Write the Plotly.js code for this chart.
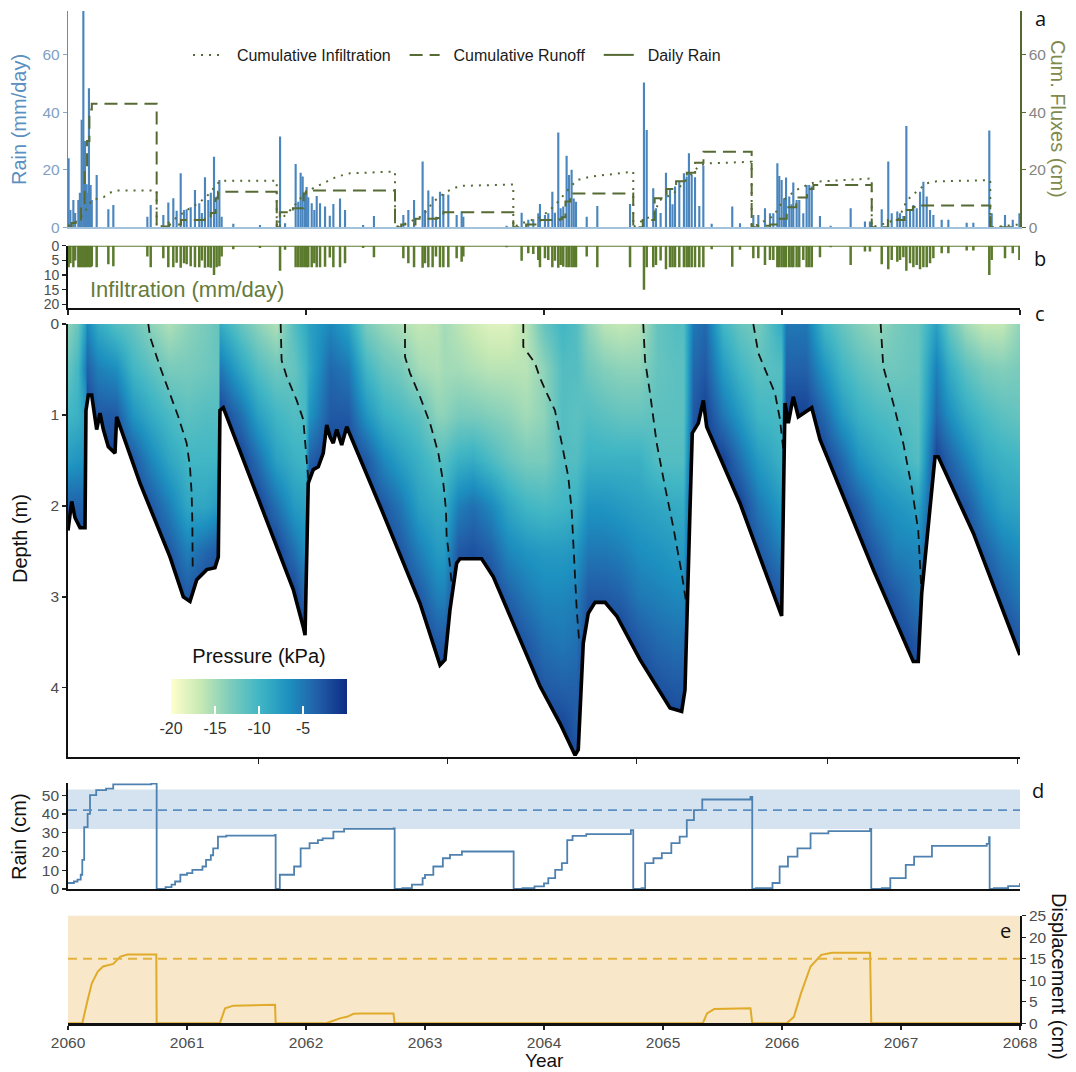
<!DOCTYPE html>
<html><head><meta charset="utf-8">
<script src="https://cdn.plot.ly/plotly-3.0.1.min.js"></script>
<style>html,body{margin:0;padding:0;background:#fff;}#chart{width:1076px;height:1072px;}</style>
</head><body><div id="chart"></div>
<script>
// ---------------- DATA ----------------
// (a) daily rain (mm/day) and (b) infiltration (mm/day)
const rainYear = [
 2060.005,2060.02,2060.045,2060.06,2060.087,2060.1,2060.115,2060.129,2060.143,2060.157,
 2060.165,2060.176,2060.19,2060.2,2060.241,2060.339,2060.381,2060.667,2060.695,2060.801,
 2060.843,2060.885,2060.913,2060.947,2060.975,2060.997,2061.031,2061.067,2061.103,2061.125,
 2061.151,2061.179,2061.2,2061.227,2061.249,2061.272,2061.291,2061.389,2061.613,2061.782,
 2061.824,2061.913,2061.935,2061.955,2061.972,2061.992,2062.005,2062.019,2062.048,2062.07,
 2062.09,2062.118,2062.16,2062.2,2062.23,2062.286,2062.328,2062.48,2062.571,2062.818,
 2062.86,2062.908,2062.98,2063.0,2063.028,2063.064,2063.092,2063.126,2063.154,2063.196,
 2063.266,2063.308,2063.322,2063.686,2063.812,2063.868,2063.91,2063.952,2063.966,2064.008,
 2064.036,2064.07,2064.092,2064.12,2064.14,2064.162,2064.19,2064.21,2064.232,2064.25,
 2064.269,2064.359,2064.448,2064.723,2064.84,2064.863,2064.918,2064.941,2064.98,2065.025,
 2065.059,2065.08,2065.101,2065.137,2065.176,2065.199,2065.218,2065.241,2065.269,2065.305,
 2065.339,2065.409,2065.582,2065.647,2065.759,2065.801,2065.857,2065.899,2065.927,2065.961,
 2065.977,2065.997,2066.017,2066.034,2066.061,2066.08,2066.095,2066.123,2066.145,2066.179,
 2066.207,2066.229,2066.25,2066.319,2066.409,2066.577,2066.697,2066.739,2066.838,2066.893,
 2066.922,2066.969,2066.992,2067.02,2067.045,2067.076,2067.104,2067.132,2067.16,2067.188,
 2067.216,2067.244,2067.272,2067.342,2067.398,2067.552,2067.608,2067.742,2067.762,2067.874,
 2067.939,2067.995];
const rainMm = [
 24,6,9.5,5,9.5,12,37.4,76,30,15,
 12,48.4,14.7,9.5,18.2,6.3,7.8,3.7,7.8,4.3,
 8.6,10.1,5.8,18.8,6,6.3,7,13,8.4,5,
 17.4,9.5,12,24.6,10.7,16.5,3.7,1.2,0.8,31.6,
 1.4,22,8.9,19,17.7,11.8,14,10.5,8.4,6,
 10.9,8.4,7.2,4,8.1,10,6,0.8,3.9,4.3,
 6,9.5,22.9,6,12.8,10.7,3.7,12.4,11.6,11.3,
 4.3,5.5,3.7,0.5,5.1,2.6,2.8,4.9,8.1,4.3,
 4.9,12.4,5.1,33,6.6,7.2,24.9,18.2,20,10,
 8.9,3.7,7.4,8.1,50.4,33.9,13.6,6.6,5,19,
 13.6,8,14.2,15.9,18.8,17.7,25.8,18.2,17.4,7.4,
 21.5,1.2,7.2,1.4,4.3,4.3,6.6,4.9,4.9,22.3,
 17.9,16.5,10.1,17.3,10.7,8,15.6,9.5,9.5,4.9,
 14.7,14.7,14.2,3.9,0.5,6.6,2,2,6.3,22.9,
 4.9,5.5,4.9,3.9,35.3,6,7.8,6.6,12.4,15.9,
 10.7,6,4.3,2.6,2.6,1.6,1.6,33.7,4.9,4.3,
 2.6,4.9];
const infilMm = [
 7.3,6,7.3,5,7.3,7.3,7.3,7.3,7.3,7.3,
 7,7.3,7.3,7,7.3,6.3,7,3.7,7.3,4.3,
 7.3,7.3,5.8,7.5,6,6.3,7,7.3,7.3,5,
 7.5,7.3,7.5,10,7.3,7,3.7,1.2,0.8,8.5,
 1.4,7.3,7.3,7.3,7.3,7.3,7.3,7.3,7.3,6,
 7.3,7.3,7.2,4,7.3,7.3,6,0.8,3.9,4.3,
 6,7.3,7.5,6,7.3,7.3,3.7,7.3,7.3,7.3,
 4.3,5.5,3.7,0.5,5.1,2.6,2.8,4.9,7.3,4.3,
 4.9,7.3,5.1,7.5,6.6,7.2,7.3,7.3,7.3,7.3,
 7.3,3.7,7.3,7.3,15,7.3,7.3,6.6,5,8,
 7.3,7.3,7.3,7.3,7.3,7.3,7.3,7.3,7.3,7.3,
 7.3,1.2,7.2,1.4,4.3,4.3,6.6,4.9,4.9,7.3,
 7.3,7.3,7.3,7.3,7.3,7.3,7.3,7.3,7.3,4.9,
 7.3,7.3,7.3,3.9,0.5,6.6,2,2,6.3,8,
 4.9,5.5,4.9,3.9,8.5,6,7.3,6.6,8,7.3,
 7.3,6,4.3,2.6,2.6,1.6,1.6,10,4.9,4.3,
 2.6,4.9];

// (a) cumulative fluxes (cm), reset each water year
const cumInfYear = [2060.0,2060.05,2060.1,2060.15,2060.2,2060.25,2060.3,2060.35,2060.4,2060.745,2060.745,
 2060.8,2060.9,2061.0,2061.095,2061.165,2061.235,2061.277,2061.754,2061.754,
 2061.78,2061.89,2062.0,2062.145,2062.258,2062.37,2062.706,2062.748,2062.748,
 2062.85,2062.98,2063.07,2063.18,2063.29,2063.742,2063.742,
 2063.82,2063.97,2064.05,2064.13,2064.22,2064.275,2064.39,2064.75,2064.75,
 2064.84,2064.92,2064.97,2065.09,2065.17,2065.25,2065.31,2065.4,2065.745,2065.745,
 2065.8,2065.93,2066.01,2066.12,2066.21,2066.29,2066.754,2066.754,
 2066.84,2066.98,2067.05,2067.13,2067.215,2067.3,2067.75,2067.75,2067.9,2068.0];
const cumInfCm = [0.5,1.5,3,6,9.5,10,10.5,12,12.8,12.8,0,
 0.5,3,6,8.4,10.7,14.1,16.2,16.2,0,
 2.4,6.9,12.4,15.3,17.6,18.8,19.4,19.4,0,
 1.5,4,8.9,12.4,14.4,14.9,0,
 1.5,3.5,6,9.4,14,16.4,17.6,19.4,0,
 2.8,4,9.4,11.8,15.3,18.8,21.7,22.3,22.8,0,
 1,4,9.4,13,14.7,15.9,17,0,
 1,3,9.4,12.4,15.3,16,16.4,0,0.5,1];
const cumRunYear = [2060.0,2060.03,2060.08,2060.11,2060.14,2060.16,2060.18,2060.2,2060.745,2060.745,
 2060.8,2060.85,2060.95,2061.15,2061.2,2061.24,2061.26,2061.754,2061.754,
 2061.78,2061.89,2061.98,2062.0,2062.748,2062.748,
 2062.8,2062.92,2063.1,2063.154,2063.742,2063.742,
 2063.85,2063.97,2064.13,2064.15,2064.18,2064.22,2064.75,2064.75,
 2064.83,2064.93,2065.0,2065.03,2065.11,2065.2,2065.27,2065.34,2065.745,2065.745,
 2065.8,2065.9,2065.955,2066.04,2066.09,2066.12,2066.21,2066.264,2066.754,2066.754,
 2066.89,2067.02,2067.03,2067.08,2067.1,2067.15,2067.75,2067.75,2068.0];
const cumRunCm = [0,1.5,2,8,20,30,41,43,43,0,
 0.3,1,2.5,3,5,10,12.4,12.4,0,
 5.2,6.6,11.8,12.8,12.8,0,
 1,3,3.2,5.2,5.2,0,
 1,2.5,2.8,3.5,9,11.8,11.8,0,
 2.5,10.1,10.1,13.3,16,19,22.5,26.3,26.3,0,
 0.5,1,3,7,7,10.4,13.3,14.7,14.7,0,
 2.5,2.5,6,6,7.1,7.6,7.6,0,0.2];

// (c) pressure head grid (kPa): depths (m) x times (year)
const gridDepth = [0,0.5,1,1.5,2,2.5,3,3.5,4,4.5,5];
const gridYear = [2060.00,2060.08,2060.14,2060.16,2060.25,2060.40,2060.55,2060.70,2060.85,
 2061.00,2061.15,2061.26,2061.28,2061.45,2061.60,2061.75,2061.90,2061.99,
 2062.025,2062.20,2062.35,2062.50,2062.65,2062.80,2062.95,
 2063.10,2063.16,2063.28,2063.40,2063.55,2063.70,2063.85,
 2064.00,2064.15,2064.27,2064.37,2064.50,2064.65,2064.80,2064.95,
 2065.10,2065.17,2065.25,2065.35,2065.50,2065.65,2065.80,2065.99,
 2066.03,2066.20,2066.35,2066.50,2066.65,2066.80,2066.95,
 2067.14,2067.29,2067.40,2067.55,2067.70,2067.85,2068.00];
const pressureCols = [
 [-14,-12,-10,-7.5,-3.5,-1.5,-1.5,-1.5,-1.5,-1.5,-1.5],
 [-12,-10,-9.5,-7,-3.5,-1.5,-1.5,-1.5,-1.5,-1.5,-1.5],
 [-8,-5.5,-8,-7,-3.5,-1.5,-1.5,-1.5,-1.5,-1.5,-1.5],
 [-6,-3.5,-1.5,-1.5,-1.5,-1.5,-1.5,-1.5,-1.5,-1.5,-1.5],
 [-9,-5.5,-3,-1.5,-1.5,-1.5,-1.5,-1.5,-1.5,-1.5,-1.5],
 [-11,-6.5,-3,-1.5,-1.5,-1.5,-1.5,-1.5,-1.5,-1.5,-1.5],
 [-12,-10,-7,-3,-1.5,-1.5,-1.5,-1.5,-1.5,-1.5,-1.5],
 [-14,-11.5,-9,-6,-3,-1.5,-1.5,-1.5,-1.5,-1.5,-1.5],
 [-15.5,-13,-10.5,-8.5,-5.5,-3,-1.5,-1.5,-1.5,-1.5,-1.5],
 [-14,-13,-11.5,-10,-8.5,-5.5,-3,-1.5,-1.5,-1.5,-1.5],
 [-13,-12.5,-11,-10,-8.5,-4,-1.5,-1.5,-1.5,-1.5,-1.5],
 [-12,-12,-11,-10,-7.5,-3,-1.5,-1.5,-1.5,-1.5,-1.5],
 [-9,-5,-1.5,-1.5,-1.5,-1.5,-1.5,-1.5,-1.5,-1.5,-1.5],
 [-12,-8.5,-4.5,-1.5,-1.5,-1.5,-1.5,-1.5,-1.5,-1.5,-1.5],
 [-14,-11,-8,-4.5,-1.5,-1.5,-1.5,-1.5,-1.5,-1.5,-1.5],
 [-15.5,-12.5,-10,-8,-4.5,-1.5,-1.5,-1.5,-1.5,-1.5,-1.5],
 [-11,-12,-11,-9.5,-7.5,-4.5,-1.5,-1.5,-1.5,-1.5,-1.5],
 [-9,-10,-10.5,-10,-8,-6.5,-4,-1.5,-1.5,-1.5,-1.5],
 [-8,-8.5,-7,-3.5,-1.5,-1.5,-1.5,-1.5,-1.5,-1.5,-1.5],
 [-6,-4,-3,-1.5,-1.5,-1.5,-1.5,-1.5,-1.5,-1.5,-1.5],
 [-8,-5,-3,-1.5,-1.5,-1.5,-1.5,-1.5,-1.5,-1.5,-1.5],
 [-13,-10,-7,-3,-1.5,-1.5,-1.5,-1.5,-1.5,-1.5,-1.5],
 [-14.5,-12,-9.5,-6,-3,-1.5,-1.5,-1.5,-1.5,-1.5,-1.5],
 [-15.5,-13,-10.5,-8,-5,-3,-1.5,-1.5,-1.5,-1.5,-1.5],
 [-16.5,-15,-11.5,-9.5,-8,-5.5,-3,-1.5,-1.5,-1.5,-1.5],
 [-16,-15.5,-14,-11,-9,-7.5,-5.5,-3,-1.5,-1.5,-1.5],
 [-15,-15,-14,-11,-9,-7.5,-5.5,-3,-1.5,-1.5,-1.5],
 [-16,-15,-13,-9.5,-5.5,-3,-1.5,-1.5,-1.5,-1.5,-1.5],
 [-17,-15.5,-13,-9,-4.5,-2.5,-1.5,-1.5,-1.5,-1.5,-1.5],
 [-18,-16,-13.5,-10.5,-6,-3.5,-1.5,-1.5,-1.5,-1.5,-1.5],
 [-18,-16,-14,-12,-8.5,-6,-3.5,-1.5,-1.5,-1.5,-1.5],
 [-16,-16,-15,-13,-10,-7,-5,-3,-1.5,-1.5,-1.5],
 [-12,-14,-14,-13,-10.5,-7.5,-6,-4.5,-3,-1.5,-1.5],
 [-10,-11,-11,-11,-10,-7.5,-6,-5,-3.5,-1.5,-1.5],
 [-11,-11,-11.5,-11,-9.5,-7,-5.5,-4.5,-3.5,-3,-1.5],
 [-14,-12.5,-11,-9.5,-7,-5,-3,-1.5,-1.5,-1.5,-1.5],
 [-16,-13.5,-11.5,-9.5,-7,-5,-3,-1.5,-1.5,-1.5,-1.5],
 [-16.5,-14,-12,-9.5,-7.5,-5.5,-3.5,-1.5,-1.5,-1.5,-1.5],
 [-16,-14,-12,-9.5,-8,-6.5,-5,-3,-1.5,-1.5,-1.5],
 [-12,-12,-11.5,-11,-8.5,-7,-5.5,-4,-2.5,-1.5,-1.5],
 [-11,-11.5,-11.5,-11,-9,-7.5,-6,-4.5,-3,-1.5,-1.5],
 [-11,-11.5,-11.5,-11,-9,-7.5,-6,-4.5,-3,-1.5,-1.5],
 [-5,-4,-3,-1.5,-1.5,-1.5,-1.5,-1.5,-1.5,-1.5,-1.5],
 [-4,-3,-1.5,-1.5,-1.5,-1.5,-1.5,-1.5,-1.5,-1.5,-1.5],
 [-10,-7.5,-5,-1.5,-1.5,-1.5,-1.5,-1.5,-1.5,-1.5,-1.5],
 [-12,-10,-7.5,-4.5,-1.5,-1.5,-1.5,-1.5,-1.5,-1.5,-1.5],
 [-13,-11.5,-10,-7.5,-5,-3,-1.5,-1.5,-1.5,-1.5,-1.5],
 [-9,-11,-10.5,-9.5,-7.5,-5.5,-3,-1.5,-1.5,-1.5,-1.5],
 [-5,-3.5,-1.5,-1.5,-1.5,-1.5,-1.5,-1.5,-1.5,-1.5,-1.5],
 [-5,-3.5,-1.5,-1.5,-1.5,-1.5,-1.5,-1.5,-1.5,-1.5,-1.5],
 [-10,-7,-4,-1.5,-1.5,-1.5,-1.5,-1.5,-1.5,-1.5,-1.5],
 [-12,-10,-7.5,-4,-1.5,-1.5,-1.5,-1.5,-1.5,-1.5,-1.5],
 [-13.5,-11.5,-9.5,-7,-3.5,-1.5,-1.5,-1.5,-1.5,-1.5,-1.5],
 [-14.5,-12.5,-10.5,-8.5,-6,-3.5,-1.5,-1.5,-1.5,-1.5,-1.5],
 [-13,-12.5,-11,-9.5,-7,-5.5,-3,-1.5,-1.5,-1.5,-1.5],
 [-12,-12,-11.5,-11,-8,-6,-5,-3,-1.5,-1.5,-1.5],
 [-8,-5.5,-4,-1.5,-1.5,-1.5,-1.5,-1.5,-1.5,-1.5,-1.5],
 [-12,-9,-6.5,-3.5,-1.5,-1.5,-1.5,-1.5,-1.5,-1.5,-1.5],
 [-15,-11.5,-9,-6,-3,-1.5,-1.5,-1.5,-1.5,-1.5,-1.5],
 [-16.5,-13,-10.5,-8.5,-6,-3.5,-1.5,-1.5,-1.5,-1.5,-1.5],
 [-16.5,-13.5,-11.5,-9.5,-8,-5.5,-3.5,-1.5,-1.5,-1.5,-1.5],
 [-14,-13,-12,-10,-8.5,-6.5,-5,-3,-1.5,-1.5,-1.5]];

// (c) lower boundary of the unsaturated profile (solid) and drying fronts (dashed)
const boundaryYear = [2060.0,2060.031,2060.059,2060.101,2060.143,2060.151,2060.171,2060.199,2060.213,2060.241,
 2060.269,2060.297,2060.339,2060.395,2060.409,2060.605,2060.857,2060.969,2061.025,2061.082,
 2061.166,2061.235,2061.263,2061.277,2061.305,2061.613,2061.893,2061.977,2061.992,2062.019,
 2062.061,2062.103,2062.145,2062.174,2062.202,2062.229,2062.258,2062.3,2062.342,2062.622,
 2062.958,2063.126,2063.168,2063.21,2063.266,2063.294,2063.476,2063.574,2063.966,2064.134,
 2064.261,2064.288,2064.33,2064.372,2064.429,2064.513,2064.611,2064.807,2065.059,2065.157,
 2065.185,2065.227,2065.246,2065.297,2065.339,2065.367,2065.647,2065.997,2066.025,2066.053,
 2066.095,2066.137,2066.179,2066.25,2066.319,2066.767,2067.103,2067.145,2067.174,2067.286,
 2067.313,2067.608,2068.0];
const boundaryDepth = [2.27,1.95,2.13,2.24,2.24,0.95,0.78,0.78,0.91,1.16,
 0.98,1.16,1.35,1.42,1.02,1.75,2.56,3.0,3.05,2.81,
 2.70,2.68,2.56,0.95,0.92,1.97,2.92,3.33,3.42,1.75,
 1.6,1.57,1.42,1.11,1.24,1.31,1.16,1.33,1.13,2.0,
 3.07,3.75,3.69,3.14,2.63,2.58,2.58,2.78,3.98,4.39,
 4.74,4.68,3.51,3.18,3.06,3.06,3.21,3.69,4.22,4.26,
 4.02,2.04,1.2,1.09,0.84,1.13,1.97,3.21,0.87,1.09,
 0.80,1.02,0.98,0.92,1.27,2.70,3.71,3.71,2.96,1.46,
 1.46,2.30,3.64];
const frontYear = [
 2060.675,2060.689,2060.773,2060.857,2060.927,2060.997,2061.025,2061.039,2061.045,2061.048,null,
 2061.787,2061.795,2061.838,2061.922,2061.977,2061.992,2062.006,2062.019,null,
 2062.832,2062.832,2062.874,2062.958,2063.042,2063.112,2063.154,2063.176,2063.182,2063.196,2063.224,null,
 2063.826,2063.826,2063.924,2063.966,2064.023,2064.092,2064.149,2064.204,2064.232,2064.246,2064.261,2064.275,2064.297,null,
 2064.834,2064.849,2064.891,2064.947,2065.017,2065.086,2065.157,2065.191,null,
 2065.759,2065.801,2065.871,2065.941,2065.983,2066.011,null,
 2066.829,2066.851,2066.935,2067.019,2067.089,2067.145,2067.17];
const frontDepth = [
 0,0.14,0.47,0.76,1.02,1.31,1.57,1.86,2.19,2.70,null,
 0,0.40,0.58,0.84,1.05,1.31,1.57,1.70,null,
 0,0.36,0.54,0.80,1.09,1.42,1.75,2.04,2.34,2.48,2.85,null,
 0,0.25,0.43,0.59,0.76,0.95,1.31,1.68,2.04,2.41,2.78,3.14,3.51,null,
 0,0.40,0.76,1.31,1.79,2.23,2.74,3.03,null,
 0,0.32,0.54,0.76,1.05,1.38,null,
 0,0.47,0.87,1.31,1.79,2.27,2.9];

// (d) cumulative rain (cm) per water year
const cumRainYear = [2060.0,2060.05,2060.08,2060.107,2060.12,2060.136,2060.165,2060.185,2060.237,2060.32,2060.38,2060.7,2060.742,2060.745,
 2060.785,2060.82,2060.87,2060.9,2060.944,2061.0,2061.045,2061.13,2061.16,2061.2,2061.22,2061.26,2061.33,2061.74,2061.745,
 2061.78,2061.9,2061.955,2062.03,2062.1,2062.14,2062.23,2062.32,2062.735,2062.745,
 2062.81,2062.89,2062.98,2063.0,2063.07,2063.15,2063.21,2063.31,2063.73,2063.745,
 2063.82,2063.92,2064.0,2064.036,2064.094,2064.15,2064.195,2064.24,2064.355,2064.73,2064.75,
 2064.82,2064.85,2064.92,2064.99,2065.07,2065.14,2065.2,2065.26,2065.33,2065.735,2065.75,
 2065.78,2065.92,2065.98,2066.05,2066.13,2066.24,2066.39,2066.74,2066.75,
 2066.84,2066.91,2067.04,2067.11,2067.26,2067.72,2067.74,2067.745,
 2067.78,2067.9,2068.0];
const cumRainCm = [3.2,4,5,7.6,15.5,33,40,50,52.7,53.5,55.8,56.2,56.7,0,
 0,1,2.3,4,7.6,8.5,10.2,12,15.5,18,21.7,27.9,28.4,28.8,0,
 7.6,12,21.7,24.4,26,27,30.6,32,32.3,0,
 0.5,2.3,5.8,7.5,12,16.4,18.2,20,20,0,
 0.5,1.4,3,5.8,10.2,13.8,26.1,28.3,29.3,31.4,0,
 0.5,13.8,16.4,19.1,24.4,27.9,36.7,42,47.7,49.1,0,
 0.5,3.2,12,17.3,21.7,29.7,30.9,32,0,
 0.5,5.8,12.9,17.3,23,24,27.6,0,
 0.5,1.5,3.2];
const rainBandCm = [32, 53];   // shaded range
const rainMeanCm = 42;         // dashed reference

// (e) displacement (cm)
const dispYear = [2060.0,2060.12,2060.165,2060.2,2060.25,2060.295,2060.38,2060.44,2060.5,2060.742,2060.745,
 2061.276,2061.32,2061.39,2061.74,2061.745,
 2062.17,2062.29,2062.345,2062.4,2062.46,2062.735,2062.745,
 2065.334,2065.37,2065.43,2065.735,2065.75,
 2066.04,2066.1,2066.16,2066.24,2066.33,2066.42,2066.74,2066.75,2068.0];
const dispCm = [0,0,5.4,9.3,12,13.2,13.8,15.5,16,16,0,
 0,3.5,4.1,4.3,0,
 0,1.2,1.5,2.2,2.3,2.3,0,
 0,2.3,3.3,3.5,0,
 0,1.5,7,13.2,15.9,16.4,16.4,0,0];
const dispThresholdCm = 15;

const pressureTicks = [-20,-15,-10,-5];
const pressureTickText = ['-20','-15','-10','-5'];
const yearTicks = [2060,2061,2062,2063,2064,2065,2066,2067,2068];
const depthGridTicks = [2061.6,2063.19,2064.78,2066.38,2067.98];

// ---------------- LAYOUT HELPERS ----------------
const W = 1076, H = 1072;
const fx = p => p / W, fy = p => 1 - p / H;
const FONT = 'Liberation Sans, Arial, sans-serif';
const OLIVE = '#5b7a2c', OLIVE_D = '#566a33', BLUE = '#4a86bd';
const NB = '\u00a0';
const xDom = [fx(68), fx(1020)];
const tickFont = {family: FONT, size: 15.5, color: '#4d4d4d'};
const baseX = {range: [2060, 2068], domain: xDom, showgrid: false, zeroline: false};
const blackLine = {showline: true, linecolor: '#111', linewidth: 1.8, showgrid: false, zeroline: false,
  ticks: 'outside', ticklen: 4, tickcolor: '#222', tickwidth: 1.2, tickfont: tickFont};

// z as rows (depth) x cols (time)
const zPressure = gridDepth.map((d, i) => pressureCols.map(c => c[i]));
const ylgnbu = [[0,'#ffffcc'],[1/6,'#c7e9b4'],[2/6,'#7fcdbb'],[3/6,'#41b6c4'],[4/6,'#1d91c0'],[5/6,'#225ea8'],[1,'#0c2c84']];

const traces = [
  {type:'bar', x: rainYear, y: rainMm, width: 0.018, marker:{color: BLUE, line:{width:0}}, xaxis:'x', yaxis:'y', showlegend:false},
  {type:'scatter', mode:'lines', x: cumInfYear, y: cumInfCm, xaxis:'x', yaxis:'y2', name: NB+NB+'Cumulative Infiltration'+NB+NB,
   line:{color: OLIVE_D, width:2, dash:'2px,6px'}},
  {type:'scatter', mode:'lines', x: cumRunYear, y: cumRunCm, xaxis:'x', yaxis:'y2', name: NB+NB+'Cumulative Runoff'+NB+NB,
   line:{color: OLIVE_D, width:2, dash:'13px,7px', shape:'hv'}},
  {type:'scatter', mode:'lines', x:[null], y:[null], xaxis:'x', yaxis:'y2', name: NB+NB+'Daily Rain', line:{color: OLIVE_D, width:2}},
  {type:'bar', x: rainYear, y: infilMm, width: 0.021, marker:{color: OLIVE, line:{width:0}}, xaxis:'x2', yaxis:'y3', showlegend:false},
  {type:'heatmap', x: gridYear, y: gridDepth, z: zPressure, xaxis:'x3', yaxis:'y4', zsmooth:'best',
   colorscale: ylgnbu, zmin:-20, zmax:0, showlegend:false,
   colorbar:{orientation:'h', x: fx(171), xanchor:'left', y: fy(657), yanchor:'top', len:176, lenmode:'pixels',
     thickness:35, thicknessmode:'pixels', outlinewidth:0, xpad:0, ypad:0,
     tickvals: pressureTicks, ticktext: pressureTickText, ticks:'inside', ticklen:8, tickcolor:'#ffffff', tickwidth:1.3,
     tickfont:{family:FONT, size:16, color:'#333'},
     title:{text:'Pressure (kPa)', side:'top', font:{family:FONT, size:20, color:'#111'}}}},
  {type:'scatter', mode:'lines', x: frontYear, y: frontDepth, xaxis:'x3', yaxis:'y4', showlegend:false,
   connectgaps:false, line:{color:'#111', width:1.8, dash:'9px,6px'}},
  {type:'scatter', mode:'lines', x: boundaryYear.concat([2068, 2060]), y: boundaryDepth.concat([5, 5]),
   xaxis:'x3', yaxis:'y4', fill:'toself', fillcolor:'#ffffff', line:{width:0}, showlegend:false},
  {type:'scatter', mode:'lines', x: boundaryYear, y: boundaryDepth, xaxis:'x3', yaxis:'y4', showlegend:false,
   line:{color:'#000', width:3.6}},
  {type:'scatter', mode:'lines', x: cumRainYear, y: cumRainCm, xaxis:'x4', yaxis:'y5', showlegend:false,
   line:{color:'#4f81b0', width:1.8, shape:'hv'}},
  {type:'scatter', mode:'lines', x: dispYear, y: dispCm, xaxis:'x5', yaxis:'y6', showlegend:false,
   line:{color:'#e0ab2a', width:2}}
];

const ann = (text, x, y, o = {}) => Object.assign({text, x: fx(x), y: fy(y), xref:'paper', yref:'paper',
  showarrow:false, xanchor:'center', yanchor:'middle', font:{family: FONT, size: 20, color:'#111'}}, o);
const letter = (t, x, y) => ann(t, x, y, {font:{family:'Open Sans, sans-serif', size:20, color:'#111'}});

const layout = {
  width: W, height: H, margin:{l:0, r:0, t:0, b:0}, paper_bgcolor:'#fff', plot_bgcolor:'rgba(0,0,0,0)',
  showlegend: true,
  legend:{orientation:'h', x: fx(188), xanchor:'left', y: fy(38), yanchor:'top', bgcolor:'rgba(0,0,0,0)',
    font:{family: FONT, size:16, color:'#1a1a1a'}, traceorder:'normal'},
  // (a)
  xaxis: Object.assign({}, baseX, {anchor:'y', showline:true, linecolor:'#a3c2dc', linewidth:1.5, ticks:'', showticklabels:false}),
  yaxis: {domain:[fy(227.3), fy(11)], range:[0, 75.3], anchor:'x', showgrid:false, zeroline:false,
    showline:true, linecolor:'#5b8fc1', linewidth:1.2, ticks:'outside', ticklen:4, tickcolor:'#8aa8c6',
    tickvals:[0,20,40,60], tickfont:{family:FONT, size:15.5, color:'#7f9fc2'}},
  yaxis2: {overlaying:'y', side:'right', anchor:'x', range:[0, 75.3], showgrid:false, zeroline:false,
    showline:true, linecolor:'#55682f', linewidth:1.6, ticks:'outside', ticklen:4, tickcolor:'#55682f',
    tickvals:[0,20,40,60], tickfont:{family:FONT, size:15.5, color:'#858585'}},
  // (b)
  xaxis2: Object.assign({}, baseX, blackLine, {anchor:'y3', linewidth:2.4, ticklen:5, tickvals:[2060,2062,2064,2066,2068], showticklabels:false}),
  yaxis3: Object.assign({}, blackLine, {domain:[fy(307.7), fy(245.7)], range:[21.1, 0], anchor:'x2', tickvals:[0,5,10,15,20],
    tickfont:{family:FONT, size:14, color:'#4d4d4d'}}),
  // (c)
  xaxis3: Object.assign({}, baseX, blackLine, {anchor:'y4', linewidth:2.4, ticklen:5, tickvals: depthGridTicks, showticklabels:false}),
  yaxis4: Object.assign({}, blackLine, {domain:[fy(757), fy(324)], range:[4.76, 0], anchor:'x3', tickvals:[0,1,2,3,4]}),
  // (d)
  xaxis4: Object.assign({}, baseX, blackLine, {anchor:'y5', linewidth:2.4, ticks:'', showticklabels:false}),
  yaxis5: Object.assign({}, blackLine, {domain:[fy(889), fy(783)], range:[0, 56.5], anchor:'x4', tickvals:[0,10,20,30,40,50]}),
  // (e)
  xaxis5: Object.assign({}, baseX, blackLine, {anchor:'y6', linewidth:2.4, ticklen:4, tickvals: yearTicks}),
  yaxis6: Object.assign({}, blackLine, {domain:[fy(1023.3), fy(915.7)], range:[0, 25], anchor:'x5', side:'right', tickvals:[0,5,10,15,20,25]}),
  shapes: [
    {type:'line', xref:'x2 domain', x0:0, x1:1, yref:'y3', y0:0, y1:0, line:{color: OLIVE, width:2.2}},
    {type:'rect', xref:'x4 domain', x0:0, x1:1, yref:'y5', y0: rainBandCm[0], y1: rainBandCm[1], fillcolor:'#d5e3f0', line:{width:0}, layer:'below'},
    {type:'line', xref:'x4 domain', x0:0, x1:1, yref:'y5', y0: rainMeanCm, y1: rainMeanCm, line:{color:'#5b8fc1', width:1.8, dash:'9px,6px'}},
    {type:'rect', xref:'x5 domain', x0:0, x1:1, yref:'y6 domain', y0:0, y1:1, fillcolor:'#f8e8c9', line:{width:0}, layer:'below'},
    {type:'line', xref:'x5 domain', x0:0, x1:1, yref:'y6', y0: dispThresholdCm, y1: dispThresholdCm, line:{color:'#e3b23c', width:1.8, dash:'9px,6px'}}
  ],
  annotations: [
    ann('Rain (mm/day)', 19, 120, {textangle:-90, font:{family:FONT, size:20, color:'#5b8fc1'}}),
    ann('Cum. Fluxes (cm)', 1058, 119, {textangle:90, font:{family:FONT, size:20, color:'#7f8a4e'}}),
    ann('Infiltration (mm/day)', 88, 290, {xanchor:'left', font:{family:FONT, size:22, color:'#667b3a'}}),
    ann('Depth (m)', 20, 539, {textangle:-90}),
    ann('Rain (cm)', 19, 837, {textangle:-90}),
    ann('Displacement (cm)', 1059, 976, {textangle:90}),
    ann('Year', 544, 1060, {font:{family:FONT, size:19, color:'#111'}}),
    letter('a', 1040, 19), letter('b', 1040, 258), letter('c', 1040, 313),
    letter('d', 1038, 790), letter('e', 1005, 930)
  ]
};

Plotly.newPlot('chart', traces, layout, {staticPlot:true, displayModeBar:false});
</script></body></html>
